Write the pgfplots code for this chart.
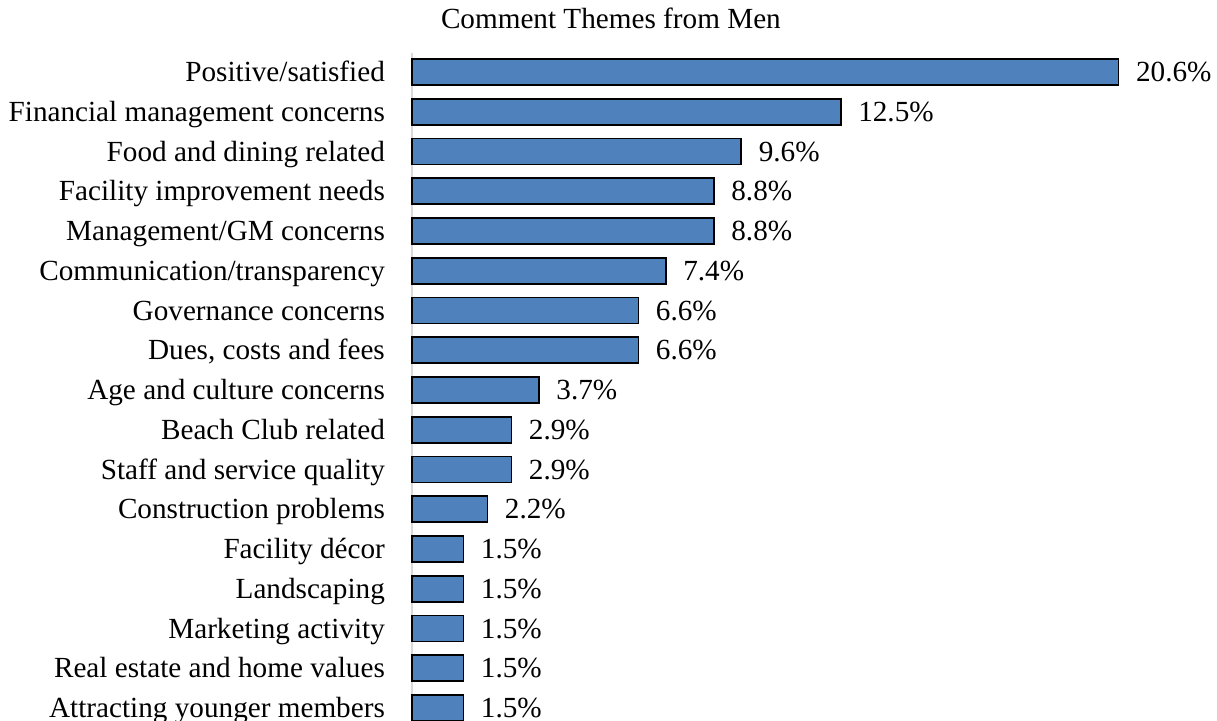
\documentclass[border=0pt]{standalone}
\usepackage{pgfplots}
\pgfplotsset{compat=1.18}
\usepackage{fontspec}
\setmainfont{Liberation Serif}
\definecolor{barblue}{HTML}{4F81BD}
\definecolor{axgray}{HTML}{D9D9D9}
\begin{document}
\fontsize{14.6pt}{17pt}\selectfont
\begin{tikzpicture}
\begin{axis}[
  name=ax,
  scale only axis,
  width=377.3pt, height=334pt,
  xbar, bar width=13pt,
  xmin=0, xmax=22,
  ymin=-0.327, ymax=16.478,
  axis x line=none,
  axis y line*=left,
  y axis line style={draw=axgray, line width=0.9pt},
  ytick={0,1,2,3,4,5,6,7,8,9,10,11,12,13,14,15,16},
  yticklabels={Attracting younger members, Real estate and home values, Marketing activity, Landscaping, Facility décor, Construction problems, Staff and service quality, Beach Club related, Age and culture concerns, {Dues, costs and fees}, Governance concerns, Communication/transparency, Management/GM concerns, Facility improvement needs, Food and dining related, Financial management concerns, Positive/satisfied},
  major tick length=0pt,
  yticklabel style={font=\fontsize{14.6pt}{17pt}\selectfont, xshift=-8.5pt, text height=0.88em, text depth=0.22em},
  /pgf/number format/assume math mode=true,
  nodes near coords={\pgfmathprintnumber[fixed,fixed zerofill,precision=1]{\pgfplotspointmeta}\%},
  nodes near coords style={font=\fontsize{14.6pt}{17pt}\selectfont, black, anchor=west, xshift=3.5pt, text height=0.88em, text depth=0.22em},
  title={Comment Themes from Men},
  every axis title/.style={font=\fontsize{14.6pt}{17pt}\selectfont, at={(0.2636,1)}, anchor=center, yshift=17.5pt},
  clip=false,
]
\addplot[fill=barblue, draw=black, line width=0.8pt] coordinates {
(1.5,0) (1.5,1) (1.5,2) (1.5,3) (1.5,4) (2.2,5) (2.9,6) (2.9,7) (3.7,8) (6.6,9) (6.6,10) (7.4,11) (8.8,12) (8.8,13) (9.6,14) (12.5,15) (20.6,16)
};
\coordinate (bl) at ([xshift=-206pt]rel axis cs:0,0);
\coordinate (tr) at ([xshift=402.5pt,yshift=26.5pt]rel axis cs:0,1);
\end{axis}
\pgfresetboundingbox
\path[use as bounding box] (bl) rectangle (tr);
\end{tikzpicture}
\end{document}
